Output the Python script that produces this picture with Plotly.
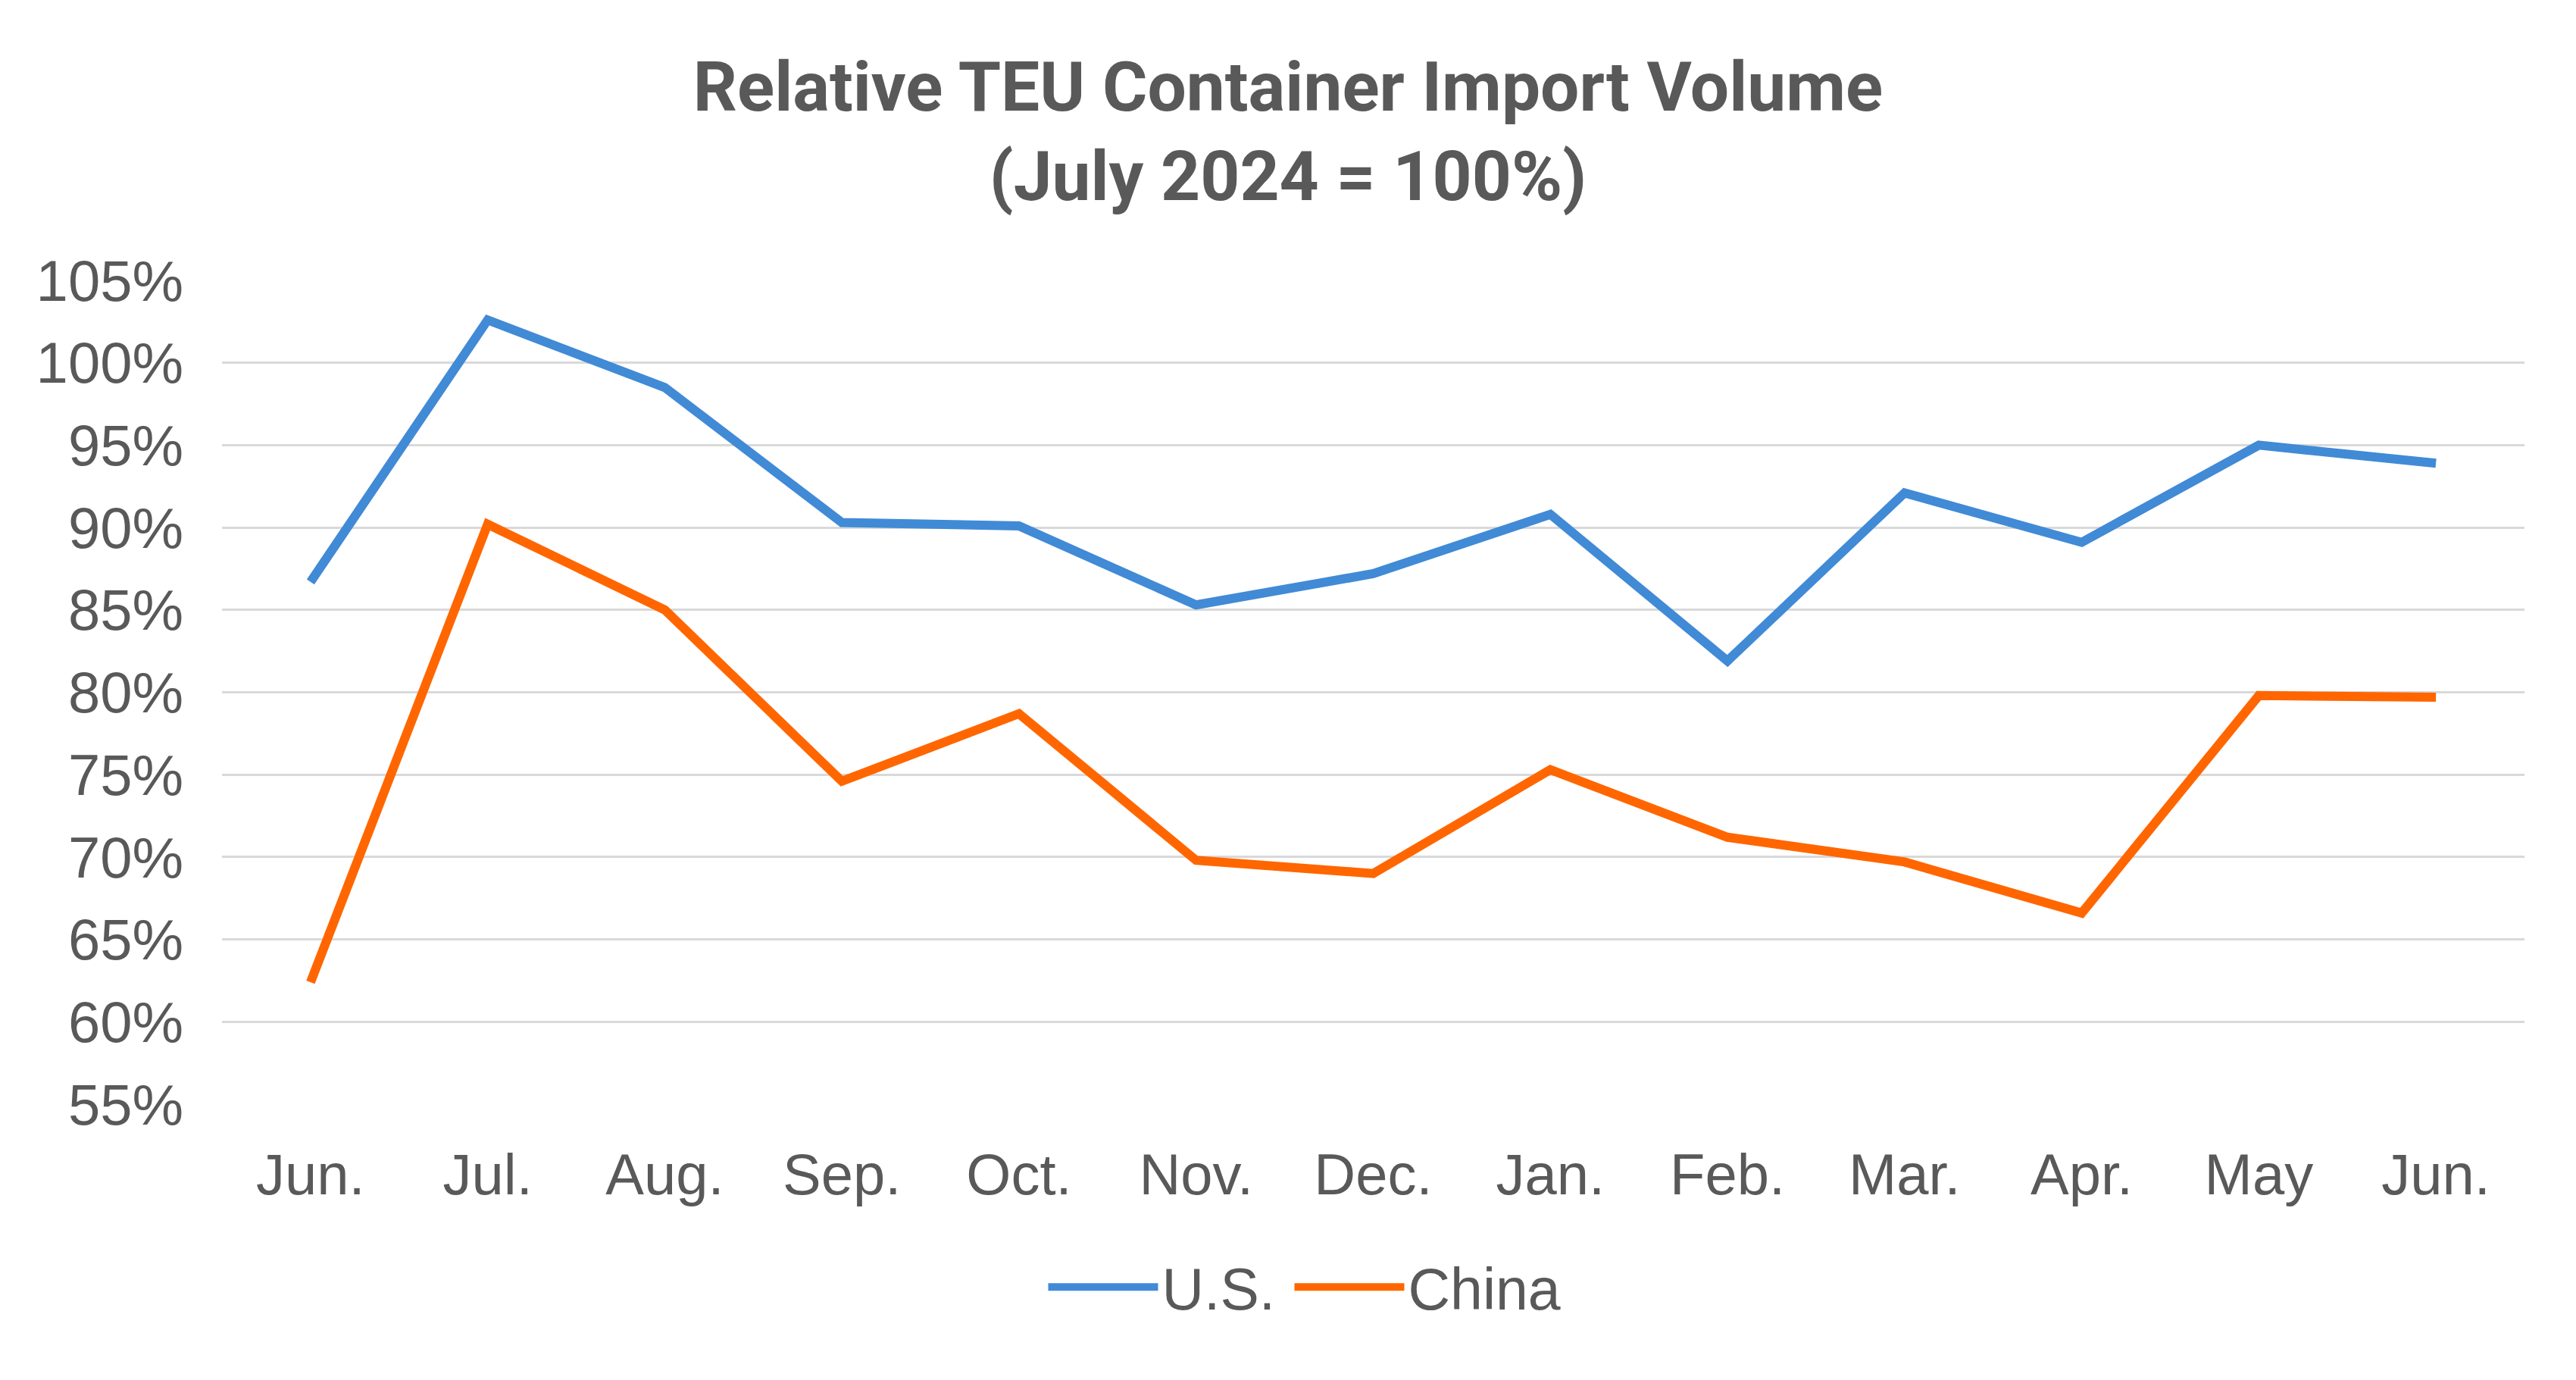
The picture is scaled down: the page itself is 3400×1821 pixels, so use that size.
import plotly.graph_objects as go

months = ["Jun.", "Jul.", "Aug.", "Sep.", "Oct.", "Nov.", "Dec.", "Jan.", "Feb.", "Mar.", "Apr.", "May", "Jun."]
us_values = [86.7, 102.6, 98.5, 90.3, 90.1, 85.3, 87.2, 90.8, 81.9, 92.1, 89.1, 95.0, 93.9]
china_values = [62.4, 90.2, 85.0, 74.6, 78.7, 69.8, 69.0, 75.3, 71.2, 69.7, 66.6, 79.8, 79.7]
y_ticks = [55, 60, 65, 70, 75, 80, 85, 90, 95, 100, 105]

x_pos = list(range(len(months)))
text_color = "#595959"

fig = go.Figure()
fig.add_trace(go.Scatter(x=x_pos, y=us_values, mode="lines", name="U.S.",
                         legendwidth=165,
                         line=dict(color="#418AD6", width=12)))
fig.add_trace(go.Scatter(x=x_pos, y=china_values, mode="lines", name="China",
                         line=dict(color="#FF6600", width=12)))

fig.update_layout(
    width=3400, height=1821,
    paper_bgcolor="white", plot_bgcolor="white",
    margin=dict(l=293, r=68, t=370, b=364),
    title=dict(text="<b>Relative TEU Container Import Volume<br>(July 2024 = 100%)</b>",
               x=0.5, xanchor="center", xref="container",
               y=1 - 146 / 1821, yanchor="middle", yref="container",
               font=dict(family="Roboto", size=91, color=text_color)),
    font=dict(family="Liberation Sans, Arial", color=text_color, size=76),
    showlegend=True,
    legend=dict(orientation="h", x=(1722 - 293) / 3039, xanchor="center",
                y=-0.17, yanchor="top",
                font=dict(size=77, color=text_color), itemwidth=145,
                traceorder="normal"),
)
fig.update_xaxes(range=[-0.5, len(months) - 0.5], tickmode="array", tickvals=x_pos,
                 ticktext=months, showgrid=False, zeroline=False, showline=False,
                 ticks="", ticklabelstandoff=42,
                 tickfont=dict(size=76, color=text_color))
fig.update_yaxes(range=[55, 105], tickmode="array", tickvals=y_ticks,
                 ticktext=[f"{v}%" for v in y_ticks],
                 showgrid=True, gridcolor="#D9D9D9", gridwidth=3,
                 zeroline=False, showline=False, ticks="", ticklabelstandoff=50,
                 tickfont=dict(size=76, color=text_color))

fig.write_html("out.html")
